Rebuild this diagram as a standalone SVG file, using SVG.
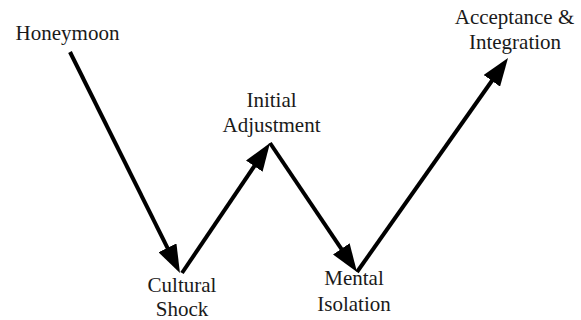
<svg xmlns="http://www.w3.org/2000/svg" width="581" height="320" viewBox="0 0 581 320">
<style>
.arr{stroke:#000;stroke-width:4;fill:none;marker-end:url(#ah)}
</style>
<defs>
<marker id="ah" markerUnits="userSpaceOnUse" markerWidth="28" markerHeight="20" refX="20" refY="10" orient="auto">
<path d="M0,0 L28,10 L0,20 z" fill="#000"/>
</marker>
</defs>
<rect width="581" height="320" fill="#fff"/>
<g id="connectors">
<line class="arr" x1="70" y1="52" x2="176.4" y2="265.8"/>
<line class="arr" x1="182" y1="273" x2="265.5" y2="149.6"/>
<line class="arr" x1="270" y1="143" x2="352.5" y2="265.4"/>
<line class="arr" x1="357" y1="272" x2="503.4" y2="64.5"/>
</g>
<g font-family="Liberation Serif" font-size="21" fill="#1a1a1a" text-anchor="middle">
<g id="honeymoon"><text x="67.5" y="40" style="font-family:'Liberation Serif';font-size:21px">Honeymoon</text></g>
<g id="cultural-shock"><text x="182" y="292" style="font-family:'Liberation Serif';font-size:21px">Cultural</text><text x="182" y="316" style="font-family:'Liberation Serif';font-size:21px">Shock</text></g>
<g id="initial-adjustment"><text x="271.5" y="107" style="font-family:'Liberation Serif';font-size:21px">Initial</text><text x="271.5" y="132" style="font-family:'Liberation Serif';font-size:21px">Adjustment</text></g>
<g id="mental-isolation"><text x="354" y="285" style="font-family:'Liberation Serif';font-size:21px">Mental</text><text x="354" y="311" style="font-family:'Liberation Serif';font-size:21px">Isolation</text></g>
<g id="acceptance-integration"><text x="514.5" y="24" style="font-family:'Liberation Serif';font-size:21px">Acceptance &amp;</text><text x="515" y="49" style="font-family:'Liberation Serif';font-size:21px">Integration</text></g>
</g>
</svg>
